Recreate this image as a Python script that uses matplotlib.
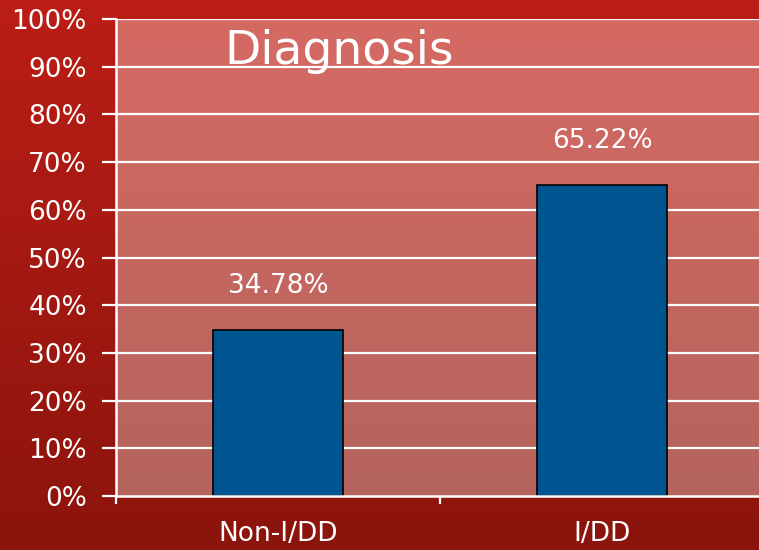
import numpy as np
import matplotlib
matplotlib.use('Agg')
import matplotlib.pyplot as plt
from matplotlib.colors import LinearSegmentedColormap

categories = ['Non-I/DD', 'I/DD']
shares = [34.78, 65.22]
yticks = list(range(0, 101, 10))

plt.rcParams['font.family'] = ['DejaVu Sans']

fig = plt.figure(figsize=(7.59, 5.5), dpi=100)

# dark red background, brighter at the top
bg = fig.add_axes([0, 0, 1, 1], zorder=-10)
bg_cmap = LinearSegmentedColormap.from_list('bg', ['#8b140c', '#bb1e16'])
bg.imshow(np.linspace(0, 1, 256).reshape(-1, 1), cmap=bg_cmap, origin='lower',
          aspect='auto', extent=[0, 1, 0, 1])
bg.set_axis_off()

W, H = 759, 550
left, right, top, bottom = 116, 764, 19, 496
ax = fig.add_axes([left / W, 1 - bottom / H, (right - left) / W, (bottom - top) / H])
ax.set_xlim(-0.5, 1.5)
ax.set_ylim(0, 100)

# lighter salmon plot area
pa_cmap = LinearSegmentedColormap.from_list('pa', ['#b4645d', '#d56a63'])
ax.imshow(np.linspace(0, 1, 256).reshape(-1, 1), cmap=pa_cmap, origin='lower',
          aspect='auto', extent=[-0.5, 1.5, 0, 100], zorder=0)

for y in yticks[1:]:
    ax.axhline(y, color='white', lw=1.6, zorder=1)

x = np.arange(len(categories))
ax.bar(x, shares, width=0.4, color='#005591', edgecolor='black', lw=1.2, zorder=2)
for xi, v in zip(x, shares):
    ax.text(xi, v + 7.7, f'{v:.2f}%', ha='center', va='baseline', color='white',
            fontsize=19, zorder=3)

ax.text(0.168, 0.906, 'Diagnosis', transform=ax.transAxes, color='white',
        fontsize=34, ha='left', va='baseline', zorder=3)

ax.set_yticks(yticks)
ax.set_yticklabels([f'{t}%' for t in yticks])
ax.set_xticks(x)
ax.set_xticklabels(categories)
ax.set_xticks([-0.5, 0.5, 1.5], minor=True)
ax.tick_params(axis='x', which='major', length=0, colors='white', labelsize=19, pad=18)
ax.tick_params(axis='x', which='minor', length=6, width=1.6, color='white', direction='out')
ax.tick_params(axis='y', length=10, width=1.6, colors='white', labelsize=19, pad=11)

for side in ['top', 'right']:
    ax.spines[side].set_visible(False)
for side in ['left', 'bottom']:
    ax.spines[side].set_color('white')
    ax.spines[side].set_linewidth(1.8)
    ax.spines[side].set_zorder(4)

fig.savefig('out.png', dpi=100)
